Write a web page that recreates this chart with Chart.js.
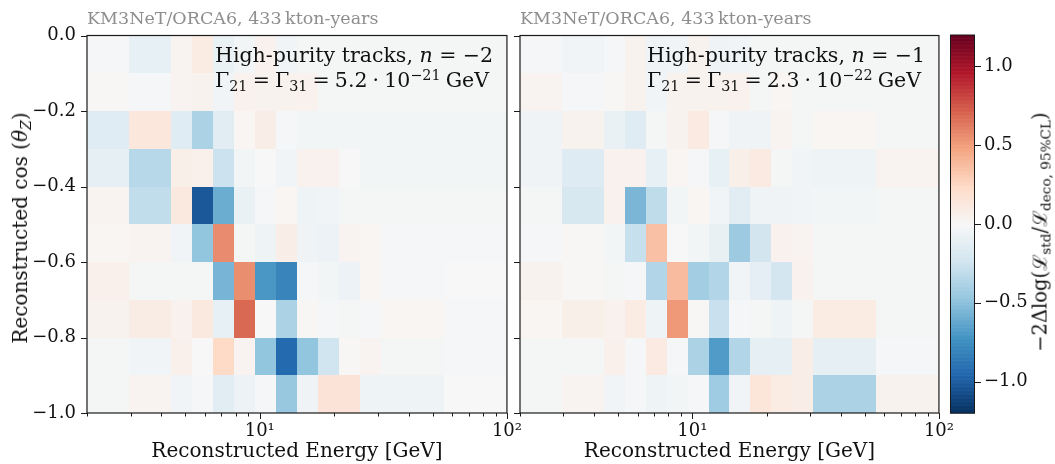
<!DOCTYPE html>
<html>
<head>
<meta charset="utf-8">
<script src="https://cdn.jsdelivr.net/npm/chart.js@4.4.1/dist/chart.umd.min.js"></script>
<style>
  body { margin: 0; background: #fff; }
  #wrap { position: relative; width: 1055px; height: 464px; overflow: hidden; font-family: "DejaVu Serif", serif; color: #111; }
  canvas { position: absolute; top: 0; }
  .note { position: absolute; font-size: 20.5px; line-height: 25px; white-space: nowrap; }
  .rot { position: absolute; transform: translate(-50%, -50%) rotate(-90deg); white-space: nowrap; font-size: 20px; }
  sub, sup { font-size: 0.7em; line-height: 0; vertical-align: baseline; position: relative; }
  sub { top: 0.3em; }
  sup { top: -0.5em; }
</style>
</head>
<body>
<div id="wrap">
  <canvas id="left" width="530" height="464" style="left:0px"></canvas>
  <canvas id="right" width="450" height="464" style="left:512px"></canvas>
  <canvas id="cbar" width="115" height="464" style="left:940px"></canvas>

  <div class="note" style="left:215px; top:43px">High-purity tracks, <i>n</i> = −2<br>Γ<sub>21</sub>&#8197;=&#8197;Γ<sub>31</sub>&#8197;=&#8197;5.2&#8197;·&#8197;10<sup>−21</sup>&#8197;GeV</div>
  <div class="note" style="left:647px; top:43px">High-purity tracks, <i>n</i> = −1<br>Γ<sub>21</sub>&#8197;=&#8197;Γ<sub>31</sub>&#8197;=&#8197;2.3&#8197;·&#8197;10<sup>−22</sup>&#8197;GeV</div>
  <div class="rot" style="left:20px; top:228px">Reconstructed cos (<i>θ</i><sub><i>Z</i></sub>)</div>
  <div class="rot" style="left:1039px; top:232px; font-size:19.5px">−2Δlog(ℒ<sub>std</sub>/ℒ<sub>deco, 95%CL</sub>)</div>
</div>
<script>
// energy bin edges [GeV] and cos(theta_Z) bin edges (top row first)
const energyEdges = [2, 2.958, 4.375, 5.318, 6.468, 7.866, 9.564, 11.63, 14.14, 17.2, 20.91, 25.43, 30.93, 55.6, 100];
const cosEdges = [0, -0.1, -0.2, -0.3, -0.4, -0.5, -0.6, -0.7, -0.8, -0.9, -1.0];

// -2 dlog(L_std / L_deco) per bin, n = -2 (rows from cos = 0 downwards)
const tracksN2 = [
  [-0.01, -0.10, 0.03, 0.10, -0.08, -0.03, 0.05, -0.04, -0.02, -0.02, -0.02, -0.02, -0.02, -0.02],
  [0.01, -0.01, 0.03, 0.04, -0.04, 0.05, 0.04, 0.04, 0.05, -0.02, -0.02, -0.02, -0.02, -0.02],
  [-0.15, 0.14, -0.15, -0.38, -0.14, 0.02, 0.08, -0.01, -0.03, -0.03, -0.03, -0.03, -0.03, -0.03],
  [-0.11, -0.34, 0.07, 0.06, -0.26, -0.03, 0.00, -0.04, 0.05, 0.05, 0.00, -0.03, -0.03, -0.03],
  [0.03, -0.30, 0.12, -1.02, -0.60, -0.08, -0.01, 0.02, -0.06, -0.04, -0.02, -0.02, -0.02, -0.02],
  [0.02, 0.03, -0.04, -0.48, 0.57, -0.02, -0.06, 0.08, -0.05, -0.07, 0.03, 0.02, -0.01, -0.01],
  [0.06, -0.02, -0.02, -0.02, -0.56, 0.56, -0.70, -0.80, -0.01, -0.03, -0.07, 0.02, -0.01, 0.00],
  [0.04, 0.09, 0.05, 0.12, -0.10, 0.69, 0.00, -0.38, 0.01, -0.01, -0.02, -0.01, 0.02, -0.01],
  [-0.02, -0.04, 0.06, 0.00, 0.24, 0.03, -0.48, -0.94, -0.48, -0.24, 0.01, 0.03, -0.02, -0.01],
  [-0.02, 0.03, -0.04, -0.01, -0.14, -0.07, -0.01, -0.46, -0.05, 0.16, 0.16, -0.06, -0.06, 0.00]
];

// same for n = -1
const tracksN1 = [
  [-0.01, -0.04, -0.01, 0.04, -0.05, -0.04, 0.04, -0.05, -0.04, -0.02, -0.02, -0.02, -0.02, -0.02],
  [0.03, -0.01, 0.01, 0.04, -0.04, 0.04, 0.04, 0.04, 0.05, -0.02, 0.02, -0.02, -0.02, -0.02],
  [-0.05, 0.04, -0.08, -0.15, -0.02, 0.04, 0.11, -0.01, -0.05, -0.05, 0.03, -0.02, 0.02, -0.02],
  [-0.05, -0.16, 0.05, 0.05, -0.10, 0.02, -0.01, -0.10, 0.07, 0.11, -0.02, -0.04, -0.06, 0.03],
  [-0.02, -0.20, 0.05, -0.55, -0.31, -0.03, 0.02, -0.04, -0.14, -0.05, -0.05, -0.04, -0.03, -0.02],
  [-0.01, 0.01, -0.03, -0.28, 0.36, 0.00, -0.03, -0.09, -0.44, -0.23, 0.05, 0.03, -0.02, -0.02],
  [0.04, 0.01, -0.02, -0.01, -0.36, 0.38, -0.42, -0.36, -0.04, -0.12, -0.22, 0.05, -0.02, -0.02],
  [0.02, 0.07, 0.05, 0.10, -0.06, 0.52, 0.01, -0.27, -0.01, -0.02, -0.06, -0.02, 0.10, -0.02],
  [-0.02, -0.02, 0.06, -0.01, 0.11, -0.01, -0.38, -0.68, -0.36, -0.11, -0.11, 0.08, -0.11, -0.01],
  [-0.02, 0.03, -0.04, -0.01, -0.06, -0.03, -0.01, -0.43, -0.04, 0.15, 0.10, 0.08, -0.38, 0.04]
];

const xTickValues = [2, 3, 4, 5, 6, 7, 8, 9, 10, 20, 30, 40, 50, 60, 70, 80, 90, 100];
const xTickLabels = { 10: '10¹', 100: '10²' };
const yTickValues = [0, -0.2, -0.4, -0.6, -0.8, -1.0];
const cbarTicks = [-1.0, -0.5, 0.0, 0.5, 1.0];
const vMin = -1.2, vMax = 1.2;

// RdBu_r
const cmapStops = [
  [5, 48, 97], [33, 102, 172], [67, 147, 195], [146, 197, 222], [209, 229, 240],
  [247, 247, 247], [253, 219, 199], [244, 165, 130], [214, 96, 77], [178, 24, 43], [103, 0, 31]
];

function colorFor(v) {
  let t = (v - vMin) / (vMax - vMin);
  t = Math.min(1, Math.max(0, t)) * (cmapStops.length - 1);
  const i = Math.min(Math.floor(t), cmapStops.length - 2);
  const f = t - i;
  const a = cmapStops[i], b = cmapStops[i + 1];
  const c = a.map((x, k) => Math.round(x + (b[k] - x) * f));
  return `rgb(${c[0]},${c[1]},${c[2]})`;
}

const fmt = v => (Math.abs(v) < 1e-9 ? 0 : v).toFixed(1).replace('-', '−');
const font = { family: 'DejaVu Serif', size: 18 };

function cells(rows) {
  const out = [];
  rows.forEach((row, r) => {
    row.forEach((v, c) => {
      out.push({ x: Math.sqrt(energyEdges[c] * energyEdges[c + 1]), y: (cosEdges[r] + cosEdges[r + 1]) / 2,
        e0: energyEdges[c], e1: energyEdges[c + 1], c0: cosEdges[r], c1: cosEdges[r + 1], v });
    });
  });
  return out;
}

const heatmap = {
  id: 'heatmap',
  beforeDatasetsDraw(chart) {
    const { ctx, scales: { x, y } } = chart;
    ctx.save();
    chart.data.datasets[0].data.forEach(d => {
      const x0 = Math.round(x.getPixelForValue(d.e0));
      const x1 = Math.round(x.getPixelForValue(d.e1));
      const y0 = Math.round(y.getPixelForValue(d.c0));
      const y1 = Math.round(y.getPixelForValue(d.c1));
      ctx.fillStyle = colorFor(d.v);
      ctx.fillRect(x0, y0, x1 - x0, y1 - y0);
    });
    ctx.restore();
  }
};

// axes box and outward ticks
const frame = {
  id: 'frame',
  afterDraw(chart) {
    const { ctx, chartArea: a, scales: { x, y } } = chart;
    ctx.save();
    ctx.strokeStyle = '#1a1a1a';
    ctx.lineWidth = 1.2;
    ctx.strokeRect(a.left, a.top, a.right - a.left, a.bottom - a.top);
    ctx.lineWidth = 1;
    ctx.beginPath();
    xTickValues.forEach(v => {
      const px = Math.round(x.getPixelForValue(v)) + 0.5;
      const len = xTickLabels[v] ? 6 : 3.5;
      ctx.moveTo(px, a.bottom);
      ctx.lineTo(px, a.bottom + len);
    });
    yTickValues.forEach(v => {
      const py = Math.round(y.getPixelForValue(v)) + 0.5;
      ctx.moveTo(a.left, py);
      ctx.lineTo(a.left - 6, py);
    });
    ctx.stroke();
    ctx.restore();
  }
};

function panel(id, rows, showY, yWidth, padRight) {
  return new Chart(document.getElementById(id), {
    type: 'scatter',
    data: { datasets: [{ data: cells(rows), pointRadius: 0 }] },
    options: {
      responsive: false,
      animation: false,
      events: [],
      layout: { padding: { left: 0, right: padRight, top: 0, bottom: 0 } },
      plugins: {
        legend: { display: false },
        tooltip: { enabled: false },
        title: {
          display: true, text: 'KM3NeT/ORCA6, 433\u2009kton-years', align: 'start', fullSize: false,
          color: '#8e8e8e', font: { family: 'DejaVu Serif', size: 17.5, weight: 'normal' },
          padding: { top: 8.5, bottom: 6 }
        }
      },
      scales: {
        x: {
          type: 'logarithmic', min: 2, max: 100,
          afterBuildTicks: s => { s.ticks = xTickValues.map(v => ({ value: v })); },
          afterFit: s => { s.height = 51; },
          ticks: { autoSkip: false, maxRotation: 0, color: '#111', font, padding: 8,
            callback: v => xTickLabels[v] || '' },
          grid: { display: false, drawTicks: false },
          border: { display: false },
          title: { display: true, text: 'Reconstructed Energy [GeV]', color: '#111',
            font: { family: 'DejaVu Serif', size: 20 }, padding: 0 }
        },
        y: {
          min: -1, max: 0,
          afterBuildTicks: s => { s.ticks = yTickValues.map(v => ({ value: v })); },
          afterFit: s => { s.width = yWidth; },
          ticks: { display: showY, color: '#111', font, padding: 11, callback: v => fmt(v) },
          grid: { display: false, drawTicks: false },
          border: { display: false }
        }
      }
    },
    plugins: [heatmap, frame]
  });
}

panel('left', tracksN2, true, 87, 21);
panel('right', tracksN1, false, 6, 23);

// colour bar
const cbarFill = {
  id: 'cbarFill',
  beforeDraw(chart) {
    const { ctx, chartArea: a, scales: { y } } = chart;
    ctx.save();
    const steps = 480;
    for (let i = 0; i < steps; i++) {
      const v0 = vMin + (vMax - vMin) * i / steps;
      const v1 = vMin + (vMax - vMin) * (i + 1) / steps;
      const p0 = y.getPixelForValue(v0), p1 = y.getPixelForValue(v1);
      ctx.fillStyle = colorFor((v0 + v1) / 2);
      ctx.fillRect(a.left, p1, a.right - a.left, p0 - p1 + 0.6);
    }
    ctx.restore();
  },
  afterDraw(chart) {
    const { ctx, chartArea: a, scales: { y } } = chart;
    ctx.save();
    ctx.strokeStyle = '#1a1a1a';
    ctx.lineWidth = 1;
    ctx.strokeRect(a.left + 0.5, a.top, a.right - a.left - 1, a.bottom - a.top);
    ctx.beginPath();
    cbarTicks.forEach(v => {
      const py = Math.round(y.getPixelForValue(v)) + 0.5;
      ctx.moveTo(a.right, py);
      ctx.lineTo(a.right + 6, py);
    });
    ctx.stroke();
    ctx.restore();
  }
};

new Chart(document.getElementById('cbar'), {
  type: 'scatter',
  data: { datasets: [{ data: [] }] },
  options: {
    responsive: false,
    animation: false,
    events: [],
    layout: { padding: { left: 10, right: 0, top: 35, bottom: 51 } },
    plugins: { legend: { display: false }, tooltip: { enabled: false } },
    scales: {
      x: { display: false, min: 0, max: 1 },
      y: {
        position: 'right', min: vMin, max: vMax,
        afterBuildTicks: s => { s.ticks = cbarTicks.map(v => ({ value: v })); },
        afterFit: s => { s.width = 80; },
        ticks: { color: '#111', font, padding: 9, callback: v => fmt(v) },
        grid: { display: false, drawTicks: false },
        border: { display: false }
      }
    }
  },
  plugins: [cbarFill]
});
</script>
</body>
</html>
